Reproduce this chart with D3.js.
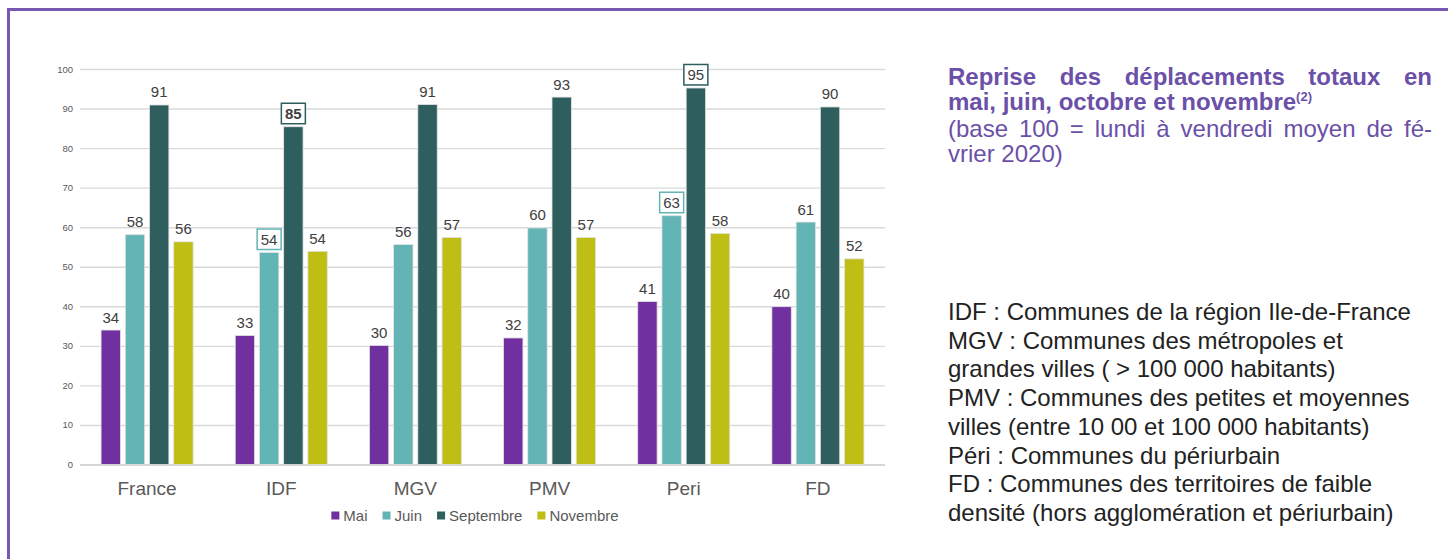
<!DOCTYPE html>
<html><head><meta charset="utf-8">
<script src="https://cdn.jsdelivr.net/npm/d3@7"></script>
<style>
body{margin:0;background:#fff}
svg{display:block}
text{font-family:"Liberation Sans",Arial,Helvetica,sans-serif}
</style>
</head><body>
<svg id="c" width="1448" height="559"></svg>
<script>
// ---- data ----
const categories = ["France", "IDF", "MGV", "PMV", "Peri", "FD"];
const seriesNames = ["Mai", "Juin", "Septembre", "Novembre"];
const mai       = [34.0, 32.6, 30.1, 32.0, 41.2, 39.9];
const juin      = [58.1, 53.6, 55.6, 59.8, 62.9, 61.3];
const septembre = [90.9, 85.4, 91.0, 92.9, 95.2, 90.4];
const novembre  = [56.3, 53.9, 57.4, 57.4, 58.4, 52.0];
const yTicks = [0, 10, 20, 30, 40, 50, 60, 70, 80, 90, 100];
const boxedLabels = [
  {cat: "IDF", series: "Juin", bold: false},
  {cat: "IDF", series: "Septembre", bold: true},
  {cat: "Peri", series: "Juin", bold: false},
  {cat: "Peri", series: "Septembre", bold: false}
];
const titleLines = ["Reprise des déplacements totaux en", "mai, juin, octobre et novembre"];
const titleNote = "(2)";
const subtitleLines = ["(base 100 = lundi à vendredi moyen de fé-", "vrier 2020)"];
const definitionLines = [
  "IDF : Communes de la région Ile-de-France",
  "MGV : Communes des métropoles et",
  "grandes villes ( > 100 000 habitants)",
  "PMV : Communes des petites et moyennes",
  "villes (entre 10 00 et 100 000 habitants)",
  "Péri : Communes du périurbain",
  "FD : Communes des territoires de faible",
  "densité (hors agglomération et périurbain)"
];

// ---- styles ----
const colors = {"Mai": "#7030a0", "Juin": "#63b4b4", "Septembre": "#2e5e5d", "Novembre": "#bfbe14"};
const purple = "#6b50a8";

const seriesValues = {"Mai": mai, "Juin": juin, "Septembre": septembre, "Novembre": novembre};
const svg = d3.select("#c");

// frame
svg.append("rect").attr("x", 8.5).attr("y", 9.5).attr("width", 1500).attr("height", 600)
  .attr("fill", "none").attr("stroke", "#7458b4").attr("stroke-width", 3);

// scales
const x0 = d3.scaleBand().domain(categories).range([80, 885]).paddingInner(0.314).paddingOuter(0.157);
const x1 = d3.scaleBand().domain(seriesNames).range([0, x0.bandwidth()]).paddingInner(0.2);
const y = d3.scaleLinear().domain([0, 100]).range([464.5, 69]);

// grid
const yAxis = d3.axisLeft(y).tickValues(yTicks).tickSize(-(885 - 80)).tickPadding(7);
const ga = svg.append("g").attr("transform", "translate(80,0)").call(yAxis);
ga.select(".domain").remove();
ga.selectAll(".tick line").attr("stroke", "#d9d9d9").attr("stroke-width", 1.4);
ga.selectAll(".tick").filter(d => d === 0).select("line").attr("stroke", "#c8c8c8");
ga.selectAll(".tick text").attr("fill", "#595959").style("font-size", "9.5px")
  .style("font-family", "'Liberation Sans', Arial, sans-serif");

// bars
const rows = [];
categories.forEach((c, i) => seriesNames.forEach(s => rows.push({cat: c, series: s, value: seriesValues[s][i]})));
const isBoxed = d => boxedLabels.find(b => b.cat === d.cat && b.series === d.series);

svg.append("g").selectAll("rect").data(rows).join("rect")
  .attr("x", d => x0(d.cat) + x1(d.series))
  .attr("y", d => y(d.value))
  .attr("width", x1.bandwidth())
  .attr("height", d => y(0) - y(d.value))
  .attr("fill", d => colors[d.series])
  .attr("stroke", "#e2e2e2").attr("stroke-width", 0.8);

// value labels
const lg = svg.append("g");
rows.forEach(d => {
  const cx = x0(d.cat) + x1(d.series) + x1.bandwidth() / 2;
  const base = y(d.value) - 7.5;
  const b = isBoxed(d);
  if (b) {
    lg.append("rect").attr("x", cx - 12).attr("y", base - 16).attr("width", 24).attr("height", 20.5)
      .attr("fill", "#fff").attr("stroke", colors[d.series]).attr("stroke-width", 1.5);
  }
  lg.append("text").attr("x", cx).attr("y", base).attr("text-anchor", "middle")
    .attr("fill", "#404040").style("font-size", "15px")
    .style("font-weight", b && b.bold ? "bold" : "normal")
    .text(Math.round(d.value));
});

// category labels
svg.append("g").selectAll("text").data(categories).join("text")
  .attr("x", d => x0(d) + x0.bandwidth() / 2).attr("y", 495)
  .attr("text-anchor", "middle").attr("fill", "#595959").style("font-size", "19px")
  .text(d => d);

// legend
const leg = svg.append("g");
const items = seriesNames.map(s => {
  const g = leg.append("g");
  g.append("rect").attr("x", 0).attr("y", -9.5).attr("width", 8).attr("height", 8).attr("fill", colors[s]);
  const t = g.append("text").attr("x", 12).attr("y", 0).attr("fill", "#595959").style("font-size", "15px").text(s);
  return {g, w: 12 + t.node().getComputedTextLength()};
});
const gapL = 15;
const totalW = d3.sum(items, it => it.w) + gapL * (items.length - 1);
let lx = 475 - totalW / 2;
items.forEach(it => { it.g.attr("transform", `translate(${lx},521)`); lx += it.w + gapL; });

// justified text helper
function textLine(parent, str, xL, yB, size, weight, fill, justifyTo) {
  if (!justifyTo) {
    return parent.append("text").attr("x", xL).attr("y", yB).attr("fill", fill)
      .style("font-size", size + "px").style("font-weight", weight).text(str);
  }
  const words = str.split(" ");
  const widths = words.map(w => {
    const t = parent.append("text").style("font-size", size + "px").style("font-weight", weight).text(w);
    const wd = t.node().getComputedTextLength(); t.remove(); return wd;
  });
  const gap = (justifyTo - xL - d3.sum(widths)) / (words.length - 1);
  let cx = xL;
  words.forEach((w, i) => {
    parent.append("text").attr("x", cx).attr("y", yB).attr("fill", fill)
      .style("font-size", size + "px").style("font-weight", weight).text(w);
    cx += widths[i] + gap;
  });
}

const tg = svg.append("g");
textLine(tg, titleLines[0], 948, 85, 24, "bold", purple, 1432);
const t2 = textLine(tg, titleLines[1], 948, 110, 24, "bold", purple, null);
t2.append("tspan").attr("dy", -9).style("font-size", "13px").text(titleNote);
textLine(tg, subtitleLines[0], 948, 137, 24, "normal", purple, 1432);
textLine(tg, subtitleLines[1], 948, 162, 24, "normal", purple, null);

const dg = svg.append("g");
definitionLines.forEach((l, i) => {
  textLine(dg, l, 948, 320 + 28.7 * i, 24, "normal", "#222222", null);
});
</script>
</body></html>
